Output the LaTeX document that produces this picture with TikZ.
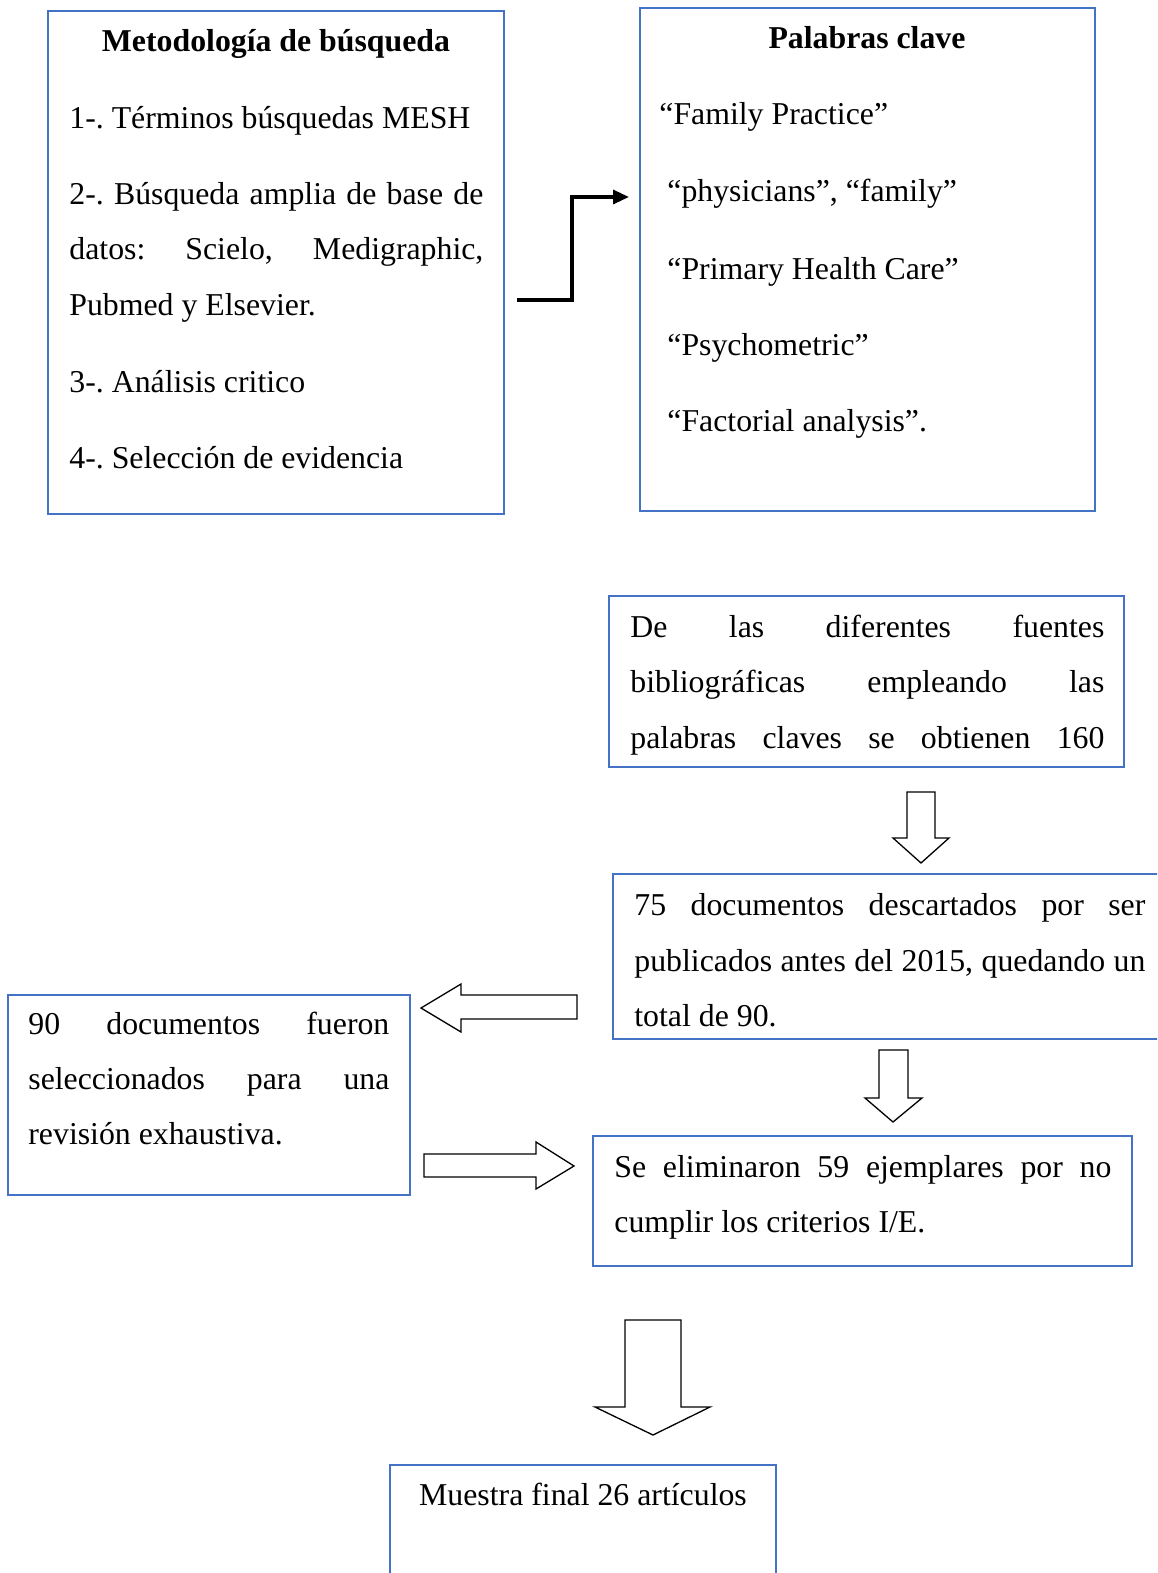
\documentclass[tikz,border=0pt]{standalone}
\usepackage{fontspec}
\setmainfont{Liberation Serif}
\usetikzlibrary{arrows.meta}
\definecolor{boxblue}{HTML}{4472C4}
\newcommand\jline[2]{\makebox[#1][s]{#2}}
\frenchspacing
\begin{document}
\begin{tikzpicture}[x=0.5pt,y=-0.5pt,
  box/.style={draw=boxblue, line width=0.75pt, inner sep=0pt, outer sep=0pt, anchor=north west},
  txt/.style={inner sep=0pt, anchor=base west, font=\fontsize{15.9}{20}\selectfont},
  ttl/.style={inner sep=0pt, anchor=base, font=\fontsize{15.9}{20}\selectfont\bfseries},
  ctxt/.style={inner sep=0pt, anchor=base, font=\fontsize{15.9}{20}\selectfont},
  blk/.style={draw=black, fill=white, line width=0.65pt, line join=miter},
  elbow/.style={draw=black, line width=1.6pt, -{Triangle[length=8pt,width=7pt]}}]
\clip (0,0) rectangle (1157,1573);
\fill[white] (0,0) rectangle (1157,1573);

% boxes
\node[box, minimum width=228pt, minimum height=251.5pt] (b1) at (48,11) {};
\node[box, minimum width=227.5pt, minimum height=251.5pt] (b2) at (640,8) {};
\node[box, minimum width=257.5pt, minimum height=85.5pt] (b3) at (609,596) {};
\node[box, minimum width=278.5pt, minimum height=82.5pt] (b4) at (613,874) {};
\node[box, minimum width=201pt, minimum height=100pt] (b5) at (8,995) {};
\node[box, minimum width=269.5pt, minimum height=65pt] (b6) at (593,1136) {};
\node[box, minimum width=193pt, minimum height=62.5pt] (b7) at (390,1465) {};

% box 1 text
\node[ttl] (t1) at (276,52) {Metodología de búsqueda};
\node[txt] (t1a) at (69,129) {1-. Términos búsquedas MESH};
\node[txt] (t1b) at (69,205) {\jline{207pt}{2-. Búsqueda amplia de base de}};
\node[txt] (t1c) at (69,260) {\jline{207pt}{datos: Scielo, Medigraphic,}};
\node[txt] (t1d) at (69,315) {Pubmed y Elsevier.};
\node[txt] (t1e) at (69,392) {3-. Análisis critico};
\node[txt] (t1f) at (69,468) {4-. Selección de evidencia};

% box 2 text
\node[ttl] (t2) at (867,49) {Palabras clave};
\node[txt] (t2a) at (659,125) {“Family Practice”};
\node[txt] (t2b) at (667,202) {“physicians”, “family”};
\node[txt] (t2c) at (667,279) {“Primary Health Care”};
\node[txt] (t2d) at (667,355) {“Psychometric”};
\node[txt] (t2e) at (667,431) {“Factorial analysis”.};

% box 3 text
\node[txt] (t3a) at (630,637) {\jline{237pt}{De las diferentes fuentes}};
\node[txt] (t3b) at (630,692) {\jline{237pt}{bibliográficas empleando las}};
\node[txt] (t3c) at (630,748) {\jline{237pt}{palabras claves se obtienen 160}};

% box 4 text
\node[txt] (t4a) at (634,915) {\jline{255.5pt}{75 documentos descartados por ser}};
\node[txt] (t4b) at (634,971) {\jline{255.5pt}{publicados antes del 2015, quedando un}};
\node[txt] (t4c) at (634,1026) {total de 90.};

% box 5 text
\node[txt] (t5a) at (28,1034) {\jline{180.5pt}{90 documentos fueron}};
\node[txt] (t5b) at (28,1089) {\jline{180.5pt}{seleccionados para una}};
\node[txt] (t5c) at (28,1144) {revisión exhaustiva.};

% box 6 text
\node[txt] (t6a) at (614,1177) {\jline{248.5pt}{Se eliminaron 59 ejemplares por no}};
\node[txt] (t6b) at (614,1232) {cumplir los criterios I/E.};

% box 7 text
\node[ctxt] (t7) at (583,1505) {Muestra final 26 artículos};

% elbow connector
\coordinate (e1) at (517,300);
\coordinate (e2) at (629,197);
\draw[elbow] (e1) -- (572,300) |- (e2);

% block arrows
\draw[blk] (907,792) -- (935,792) -- (935,838) -- (949,838) -- (921,863) -- (893,838) -- (907,838) -- cycle;
\draw[blk] (577,995) -- (577,1019) -- (461,1019) -- (461,1032) -- (421,1008) -- (461,984) -- (461,995) -- cycle;
\draw[blk] (879,1050) -- (908,1050) -- (908,1098) -- (922,1098) -- (893,1122) -- (865,1098) -- (879,1098) -- cycle;
\draw[blk] (424,1154) -- (536,1154) -- (536,1142) -- (574,1166) -- (536,1189) -- (536,1177) -- (424,1177) -- cycle;
\draw[blk] (625,1320) -- (681,1320) -- (681,1407) -- (710,1407) -- (653,1435) -- (595,1407) -- (625,1407) -- cycle;
\end{tikzpicture}
\end{document}
